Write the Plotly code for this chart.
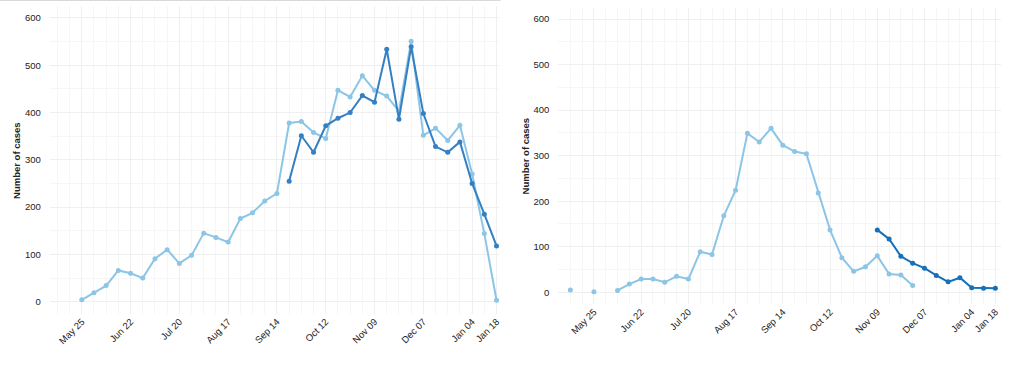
import pandas as pd
import plotly.graph_objects as go

# ---------------- data ----------------
left_light_dates = pd.date_range("2020-05-25", "2021-01-18", freq="7D")
left_light_values = [4, 19, 34, 66, 60, 50, 91, 110, 81, 98, 145, 136, 126, 176, 188,
                     213, 229, 378, 381, 358, 345, 447, 433, 478, 447, 435, 403, 551,
                     352, 367, 341, 373, 270, 144, 3]
left_dark_dates = pd.date_range("2020-09-21", "2021-01-18", freq="7D")
left_dark_values = [255, 351, 316, 372, 388, 400, 436, 422, 534, 386, 539, 398, 328,
                    316, 338, 250, 185, 118]

right_light_dates = pd.date_range("2020-05-11", "2020-11-30", freq="7D")
right_light_values = [5, None, 1, None, 4, 18, 29, 29, 22, 35, 29, 89, 83, 168, 224,
                      349, 330, 360, 323, 309, 304, 218, 137, 76, 46, 56, 80, 40, 38, 15]
right_dark_dates = pd.date_range("2020-11-09", "2021-01-18", freq="7D")
right_dark_values = [137, 117, 79, 64, 53, 37, 23, 32, 10, 9, 9]

tick_dates = list(pd.date_range("2020-05-25", "2021-01-04", freq="28D")) + [pd.Timestamp("2021-01-18")]
tick_labels = [d.strftime("%b %d") for d in tick_dates]
y_ticks = [0, 100, 200, 300, 400, 500, 600]

# ---------------- style ----------------
W, H = 1013, 366
LIGHT = "#8cc5e5"
DARK_L = "#3480c2"
DARK_R = "#1570ba"
FONT = "Liberation Sans, Arial, sans-serif"

fig = go.Figure()

def add_series(x, y, color, xa, ya):
    fig.add_trace(go.Scatter(
        x=x, y=y, mode="lines+markers", xaxis=xa, yaxis=ya,
        line=dict(color=color, width=2), marker=dict(color=color, size=5),
        connectgaps=False, showlegend=False, cliponaxis=False))

add_series(left_light_dates, left_light_values, LIGHT, "x", "y")
add_series(left_dark_dates, left_dark_values, DARK_L, "x", "y")
add_series(right_light_dates, right_light_values, LIGHT, "x2", "y2")
add_series(right_dark_dates, right_dark_values, DARK_R, "x2", "y2")

may25 = pd.Timestamp("2020-05-25")
jan18 = pd.Timestamp("2021-01-18")

def xrange_for(px_start, px_may25, px_jan18, px_end):
    per_day = (px_jan18 - px_may25) / (jan18 - may25).days
    a = may25 - pd.Timedelta(days=(px_may25 - px_start) / per_day)
    b = jan18 + pd.Timedelta(days=(px_end - px_jan18) / per_day)
    return [a, b]

def yaxis_dom(px0, px600):
    per = (px0 - px600) / 600.0
    top = px600 - 25 * per
    bot = px0 + 25 * per
    return [(H - bot) / H, (H - top) / H]

xaxis_common = dict(
    type="date", tickmode="array", tickvals=tick_dates, ticktext=tick_labels,
    tickangle=-45, ticks="", showline=False, zeroline=False,
    showgrid=True, gridcolor="#efefef", gridwidth=1,
    minor=dict(tick0="2020-05-25", dtick=7 * 86400000, showgrid=True,
               gridcolor="#f6f6f6", gridwidth=1),
    tickfont=dict(family=FONT, size=9.5, color="#222222"),
)
yaxis_common = dict(
    range=[-25, 625], tickvals=y_ticks, ticks="", showline=False, zeroline=False,
    showgrid=True, gridcolor="#efefef", gridwidth=1,
    minor=dict(dtick=50, showgrid=True, gridcolor="#f6f6f6", gridwidth=1),
    tickfont=dict(family=FONT, size=9.5, color="#222222"),
    ticklabelstandoff=8,
)

fig.update_layout(
    width=W, height=H, margin=dict(l=0, r=0, t=0, b=0),
    paper_bgcolor="white", plot_bgcolor="white",
    font=dict(family=FONT),
    xaxis=dict(domain=[50 / W, 500 / W], range=xrange_for(50, 82, 498, 500),
               anchor="y", **xaxis_common),
    yaxis=dict(domain=yaxis_dom(301.7, 18.0), anchor="x", **yaxis_common),
    xaxis2=dict(domain=[560 / W, 1004 / W], range=xrange_for(560, 595.7, 998.3, 1004),
                anchor="y2", **xaxis_common),
    yaxis2=dict(domain=yaxis_dom(292.3, 19.0), anchor="x2", **yaxis_common),
    annotations=[
        dict(text="<b>Number of cases</b>", x=16 / W, y=(H - 160) / H, xref="paper",
             yref="paper", textangle=-90, showarrow=False,
             xanchor="center", yanchor="middle",
             font=dict(family=FONT, size=9.5, color="#222222")),
        dict(text="<b>Number of cases</b>", x=527 / W, y=(H - 156) / H, xref="paper",
             yref="paper", textangle=-90, showarrow=False,
             xanchor="center", yanchor="middle",
             font=dict(family=FONT, size=9.5, color="#222222")),
    ],
    shapes=[dict(type="line", xref="paper", yref="paper", x0=0, x1=502 / W,
                 y0=1 - 0.5 / H, y1=1 - 0.5 / H, line=dict(color="#d9d9d9", width=1))],
)

fig.write_html("out.html", config={"displayModeBar": False},
               post_script="document.body.style.margin='0';document.body.style.overflow='hidden';")
